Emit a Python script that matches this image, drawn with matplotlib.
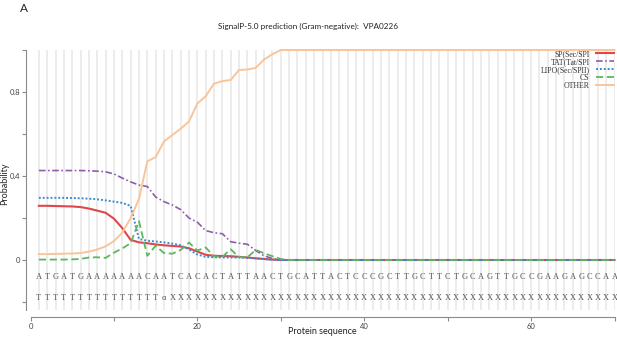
import matplotlib
matplotlib.use("Agg")
import matplotlib.pyplot as plt
from matplotlib.ticker import FixedLocator, NullFormatter

# ---------------- data ----------------
positions = list(range(1, 71))

sp = [0.258, 0.258, 0.257, 0.256, 0.255, 0.252, 0.245, 0.235, 0.225, 0.197,
      0.152, 0.096, 0.084, 0.080, 0.074, 0.070, 0.067, 0.064, 0.056, 0.040,
      0.025, 0.020, 0.019, 0.018, 0.015, 0.012, 0.008, 0.005, 0.002, 0.0,
      0.0, 0.0, 0.0, 0.0, 0.0, 0.0, 0.0, 0.0, 0.0, 0.0,
      0.0, 0.0, 0.0, 0.0, 0.0, 0.0, 0.0, 0.0, 0.0, 0.0,
      0.0, 0.0, 0.0, 0.0, 0.0, 0.0, 0.0, 0.0, 0.0, 0.0,
      0.0, 0.0, 0.0, 0.0, 0.0, 0.0, 0.0, 0.0, 0.0, 0.0]

tat = [0.426, 0.426, 0.426, 0.426, 0.426, 0.426, 0.425, 0.423, 0.420, 0.410,
       0.390, 0.372, 0.357, 0.350, 0.300, 0.278, 0.262, 0.240, 0.200, 0.180,
       0.140, 0.130, 0.125, 0.087, 0.080, 0.075, 0.045, 0.020, 0.007, 0.0,
       0.0, 0.0, 0.0, 0.0, 0.0, 0.0, 0.0, 0.0, 0.0, 0.0,
       0.0, 0.0, 0.0, 0.0, 0.0, 0.0, 0.0, 0.0, 0.0, 0.0,
       0.0, 0.0, 0.0, 0.0, 0.0, 0.0, 0.0, 0.0, 0.0, 0.0,
       0.0, 0.0, 0.0, 0.0, 0.0, 0.0, 0.0, 0.0, 0.0, 0.0]

lipo = [0.296, 0.296, 0.296, 0.296, 0.295, 0.294, 0.292, 0.289, 0.284, 0.278,
        0.272, 0.258, 0.100, 0.092, 0.088, 0.084, 0.078, 0.070, 0.050, 0.026,
        0.015, 0.013, 0.012, 0.012, 0.012, 0.010, 0.008, 0.004, 0.001, 0.0,
        0.0, 0.0, 0.0, 0.0, 0.0, 0.0, 0.0, 0.0, 0.0, 0.0,
        0.0, 0.0, 0.0, 0.0, 0.0, 0.0, 0.0, 0.0, 0.0, 0.0,
        0.0, 0.0, 0.0, 0.0, 0.0, 0.0, 0.0, 0.0, 0.0, 0.0,
        0.0, 0.0, 0.0, 0.0, 0.0, 0.0, 0.0, 0.0, 0.0, 0.0]

cs = [0.002, 0.002, 0.002, 0.002, 0.003, 0.005, 0.012, 0.013, 0.010, 0.035,
      0.055, 0.080, 0.185, 0.020, 0.068, 0.033, 0.030, 0.048, 0.083, 0.045,
      0.060, 0.016, 0.015, 0.051, 0.013, 0.013, 0.048, 0.032, 0.018, 0.005,
      0.0, 0.0, 0.0, 0.0, 0.0, 0.0, 0.0, 0.0, 0.0, 0.0,
      0.0, 0.0, 0.0, 0.0, 0.0, 0.0, 0.0, 0.0, 0.0, 0.0,
      0.0, 0.0, 0.0, 0.0, 0.0, 0.0, 0.0, 0.0, 0.0, 0.0,
      0.0, 0.0, 0.0, 0.0, 0.0, 0.0, 0.0, 0.0, 0.0, 0.0]

other = [0.028, 0.028, 0.029, 0.030, 0.031, 0.033, 0.040, 0.050, 0.065, 0.090,
         0.130, 0.200, 0.290, 0.470, 0.490, 0.565, 0.595, 0.625, 0.660, 0.745,
         0.780, 0.840, 0.852, 0.857, 0.905, 0.907, 0.915, 0.955, 0.980, 1.0,
         1.0, 1.0, 1.0, 1.0, 1.0, 1.0, 1.0, 1.0, 1.0, 1.0,
         1.0, 1.0, 1.0, 1.0, 1.0, 1.0, 1.0, 1.0, 1.0, 1.0,
         1.0, 1.0, 1.0, 1.0, 1.0, 1.0, 1.0, 1.0, 1.0, 1.0,
         1.0, 1.0, 1.0, 1.0, 1.0, 1.0, 1.0, 1.0, 1.0, 1.0]

nucleotides = "ATGATGAAAAAAACAATCACACTATTAACTGCATTACTCCCGCTTGCTTCTGCAGTTGCCGAAGAGCCAA"
annotation = "TTTTTTTTTTTTTTT\u03b1XXXXXXXXXXXXXXXXXXXXXXXXXXXXXXXXXXXXXXXXXXXXXXXXXXXXXX"

series_labels = ["SP(Sec/SPI", "TAT(Tat/SPI", "LIPO(Sec/SPII)", "CS", "OTHER"]
title = "SignalP-5.0 prediction (Gram-negative):  VPA0226"
x_major_ticks = [0, 20, 40, 60]
x_minor_ticks = [10, 30, 50, 70]
y_major_ticks = [0, 0.4, 0.8]
y_minor_ticks = [-0.2, 0.2, 0.6, 1.0]

# ---------------- figure ----------------
W, H = 617, 340
fig = plt.figure(figsize=(W / 100, H / 100), dpi=100)
x0_px, x1_px = 30.5, 614.5
ytop_px, ybot_px = 50.0, 316.7
ax = fig.add_axes([x0_px / W, 1 - ybot_px / H, (x1_px - x0_px) / W, (ybot_px - ytop_px) / H])
ax.set_xlim(0, 70)
ax.set_ylim(-0.27, 1.0)

# vertical grid lines at each residue
ax.vlines(positions, -0.24, 1.0, colors="#e9e9e9", linewidth=1.2, zorder=0)

styles = [
    dict(color="#e0474c", linestyle="-", linewidth=1.5),
    dict(color="#8e5ea8", linestyle=(0, (4, 1.5, 1, 1.5)), linewidth=1.2),
    dict(color="#3a8bd0", linestyle=(0, (1, 1)), linewidth=1.4),
    dict(color="#5cb85c", linestyle=(0, (4, 2)), linewidth=1.3),
    dict(color="#f8c59a", linestyle="-", linewidth=1.4),
]
handles = []
for vals, st in zip([sp, tat, lipo, cs, other], styles):
    h, = ax.plot(positions, vals, clip_on=False, zorder=3, **st)
    handles.append(h)

# sequence rows
for p, ch in zip(positions, nucleotides):
    ax.text(p, -0.08, ch, ha="center", va="center", fontsize=6.0,
            family=["Liberation Serif", "DejaVu Serif"], color="#555555")
for p, ch in zip(positions, annotation):
    ax.text(p, -0.18, ch, ha="center", va="center", fontsize=6.0,
            family=["Liberation Serif", "DejaVu Serif"], color="#555555")

# spines
for s in ["top", "right"]:
    ax.spines[s].set_visible(False)
for s in ["left", "bottom"]:
    ax.spines[s].set_color("#8a8a8a")
    ax.spines[s].set_linewidth(0.8)
ax.spines["left"].set_position(("outward", 3.2))
ax.spines["left"].set_bounds(-0.24, 1.0)
ax.spines["bottom"].set_bounds(0, 70)

ax.xaxis.set_major_locator(FixedLocator(x_major_ticks))
ax.xaxis.set_minor_locator(FixedLocator(x_minor_ticks))
ax.yaxis.set_major_locator(FixedLocator(y_major_ticks))
ax.yaxis.set_minor_locator(FixedLocator(y_minor_ticks))
ax.yaxis.set_minor_formatter(NullFormatter())
ax.xaxis.set_minor_formatter(NullFormatter())
ax.set_yticklabels(["0", "0.4", "0.8"])
ax.tick_params(which="both", direction="out", length=3, width=0.8, color="#8a8a8a",
               labelsize=5.5, labelcolor="#444444", pad=1.5)
for lab in ax.get_xticklabels() + ax.get_yticklabels():
    lab.set_family(["Lato", "DejaVu Sans"])

ax.set_xlabel("Protein sequence", fontsize=6.5, family=["Lato", "DejaVu Sans"], color="#222222")
ax.xaxis.set_label_coords(0.5, -0.037)
ax.set_ylabel("Probability", fontsize=6.5, family=["Lato", "DejaVu Sans"], color="#222222")
ax.yaxis.set_label_coords(-0.036, 0.5)

leg = ax.legend(handles, series_labels, loc="upper right", bbox_to_anchor=(1.0, 1.0),
                frameon=False, markerfirst=False, labelspacing=0.0,
                handlelength=2.4, handletextpad=0.8, borderpad=0.0, borderaxespad=0.0,
                prop={"family": ["Liberation Serif", "DejaVu Serif"], "size": 5.6})
for t in leg.get_texts():
    t.set_ha("right")
    t.set_color("#333333")
leg._legend_box.align = "right"

fig.text(218 / W, 1 - 26 / H, title, ha="left", va="center", fontsize=5.9,
         family=["Lato", "DejaVu Sans"], color="#222222")
fig.text(20 / W, 1 - 8 / H, "A", ha="left", va="center", fontsize=8.5,
         family=["Lato", "DejaVu Sans"], color="#222222")

fig.savefig("out.png", dpi=100)
